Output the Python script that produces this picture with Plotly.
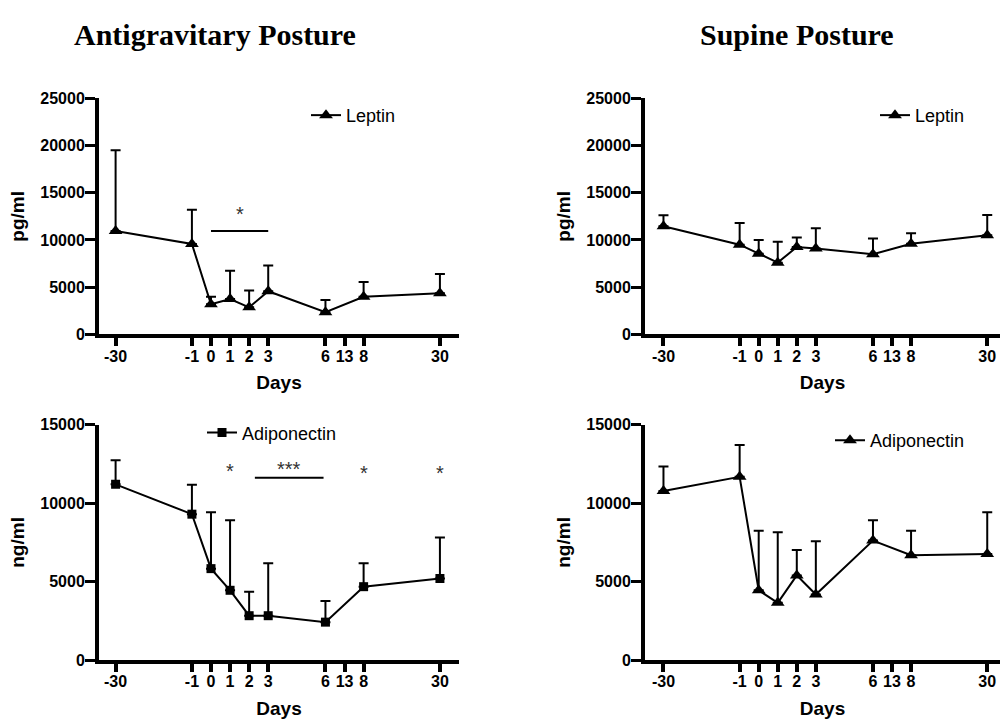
import plotly.graph_objects as go

# ---- axis categories (tick labels and their slot on the day axis) ----
tick_labels = ["-30", "-1", "0", "1", "2", "3", "6", "13", "8", "30"]
tick_slots = [-5, -1, 0, 1, 2, 3, 6, 7, 8, 12]
sample_days = ["-30", "-1", "0", "1", "2", "3", "6", "8", "30"]

# ---- series values (mean and top of SD bar) ----
leptin_antigrav_mean = [10950, 9580, 3200, 3750, 2870, 4580, 2350, 3990, 4350]
leptin_antigrav_upper = [19500, 13200, 4000, 6750, 4650, 7300, 3650, 5540, 6400]

leptin_supine_mean = [11450, 9500, 8550, 7600, 9250, 9100, 8500, 9600, 10500]
leptin_supine_upper = [12600, 11800, 10000, 9800, 10250, 11250, 10150, 10700, 12650]

adipo_antigrav_mean = [11200, 9300, 5830, 4450, 2830, 2830, 2420, 4680, 5200]
adipo_antigrav_upper = [12740, 11180, 9420, 8920, 4360, 6180, 3760, 6180, 7820]

adipo_supine_mean = [10780, 11680, 4450, 3650, 5400, 4180, 7620, 6680, 6760]
adipo_supine_upper = [12340, 13710, 8240, 8150, 7010, 7570, 8920, 8240, 9420]

# significance marks: (x from, x to, y) for bars and (x, y, text) for stars
leptin_antigrav_sig_bar = (0, 3, 10950)
leptin_antigrav_sig_text = [(1.5, 12750, "*")]
adipo_antigrav_sig_bar = (2.3, 5.9, 11620)
adipo_antigrav_sig_text = [(1, 12050, "*"), (4.1, 12150, "***"), (8, 11950, "*"), (12, 11950, "*")]

slot_of = dict(zip(tick_labels, tick_slots))
x_slots = [slot_of[d] for d in sample_days]

FONT = "Arial, Liberation Sans, sans-serif"
fig = go.Figure()


def add_series(mean, upper, name, symbol, msize, xa, ya, legend):
    err = [u - m for u, m in zip(upper, mean)]
    fig.add_trace(go.Scatter(
        x=x_slots, y=mean, name=name, mode="lines+markers",
        xaxis=xa, yaxis=ya, legend=legend,
        line=dict(color="black", width=2),
        marker=dict(symbol=symbol, size=msize, color="black"),
        error_y=dict(type="data", symmetric=False, array=err,
                     arrayminus=[0] * len(err), color="black",
                     thickness=2, width=5),
    ))


add_series(leptin_antigrav_mean, leptin_antigrav_upper, "Leptin", "triangle-up", 12, "x", "y", "legend")
add_series(leptin_supine_mean, leptin_supine_upper, "Leptin", "triangle-up", 12, "x2", "y2", "legend2")
add_series(adipo_antigrav_mean, adipo_antigrav_upper, "Adiponectin", "square", 9, "x3", "y3", "legend3")
add_series(adipo_supine_mean, adipo_supine_upper, "Adiponectin", "triangle-up", 12, "x4", "y4", "legend4")


def xaxis(domain, rng, anchor):
    return dict(domain=domain, range=rng, anchor=anchor,
                tickmode="array", tickvals=tick_slots, ticktext=tick_labels,
                showline=True, linewidth=4, linecolor="black",
                ticks="outside", ticklen=8, tickwidth=4, tickcolor="black",
                ticklabelstandoff=-4,
                showgrid=False, zeroline=False,
                tickfont=dict(family=FONT, size=16, color="black", weight="bold"),
                title=dict(text="Days", standoff=13,
                           font=dict(family=FONT, size=19, color="black", weight="bold")))


def yaxis(domain, rng, dtick, title, anchor):
    return dict(domain=domain, range=rng, anchor=anchor,
                tickmode="linear", tick0=0, dtick=dtick, tickformat="d",
                showline=True, linewidth=4, linecolor="black",
                ticks="outside", ticklen=10, tickwidth=3, tickcolor="black",
                ticklabelstandoff=-3,
                showgrid=False, zeroline=False,
                tickfont=dict(family=FONT, size=16, color="black", weight="bold"),
                title=dict(text=title, standoff=12,
                           font=dict(family=FONT, size=19, color="black", weight="bold")))


H = 728.0
top_dom = [1 - 334.3 / H, 1 - 92.3 / H]
bot_dom = [1 - 667.7 / H, 1 - 426.7 / H]
left_dom = [0.099, 0.459]
right_dom = [0.645, 1.0]


def legend_at(xpx, ypx):
    return dict(x=xpx / 1000.0, y=1 - ypx / H, xanchor="left", yanchor="middle",
                bgcolor="rgba(0,0,0,0)", borderwidth=0,
                font=dict(family=FONT, size=18, color="black"))


shapes = []
annotations = []
for (x0, x1, yv), xr, yr in [(leptin_antigrav_sig_bar, "x", "y"), (adipo_antigrav_sig_bar, "x3", "y3")]:
    shapes.append(dict(type="line", xref=xr, yref=yr, x0=x0, x1=x1, y0=yv, y1=yv,
                       line=dict(color="black", width=2)))
for items, xr, yr in [(leptin_antigrav_sig_text, "x", "y"), (adipo_antigrav_sig_text, "x3", "y3")]:
    for xv, yv, t in items:
        annotations.append(dict(x=xv, y=yv, xref=xr, yref=yr, text=t, showarrow=False,
                                font=dict(family=FONT, size=20, color="#333333")))

for txt, xpx in [("Antigravitary Posture", 215), ("Supine Posture", 797)]:
    annotations.append(dict(x=xpx / 1000.0, y=1 - 27 / H, xref="paper", yref="paper",
                            text=txt, showarrow=False, xanchor="center", yanchor="middle",
                            font=dict(family="Liberation Serif, Times New Roman, serif",
                                      size=30, color="black", weight="bold")))

fig.update_layout(
    width=1000, height=728,
    margin=dict(l=0, r=0, t=0, b=0),
    paper_bgcolor="white", plot_bgcolor="white",
    showlegend=True,
    xaxis=xaxis(left_dom, [-5.87, 13.0], "y"),
    yaxis=yaxis(top_dom, [0, 25000], 5000, "pg/ml", "x"),
    xaxis2=xaxis(right_dom, [-5.97, 12.67], "y2"),
    yaxis2=yaxis(top_dom, [0, 25000], 5000, "pg/ml", "x2"),
    xaxis3=xaxis(left_dom, [-5.87, 13.0], "y3"),
    yaxis3=yaxis(bot_dom, [0, 15000], 5000, "ng/ml", "x3"),
    xaxis4=xaxis(right_dom, [-5.97, 12.67], "y4"),
    yaxis4=yaxis(bot_dom, [0, 15000], 5000, "ng/ml", "x4"),
    legend=legend_at(306, 110),
    legend2=legend_at(875, 110),
    legend3=legend_at(202, 435),
    legend4=legend_at(830, 443),
    shapes=shapes,
    annotations=annotations,
)

fig.write_html("out.html")
